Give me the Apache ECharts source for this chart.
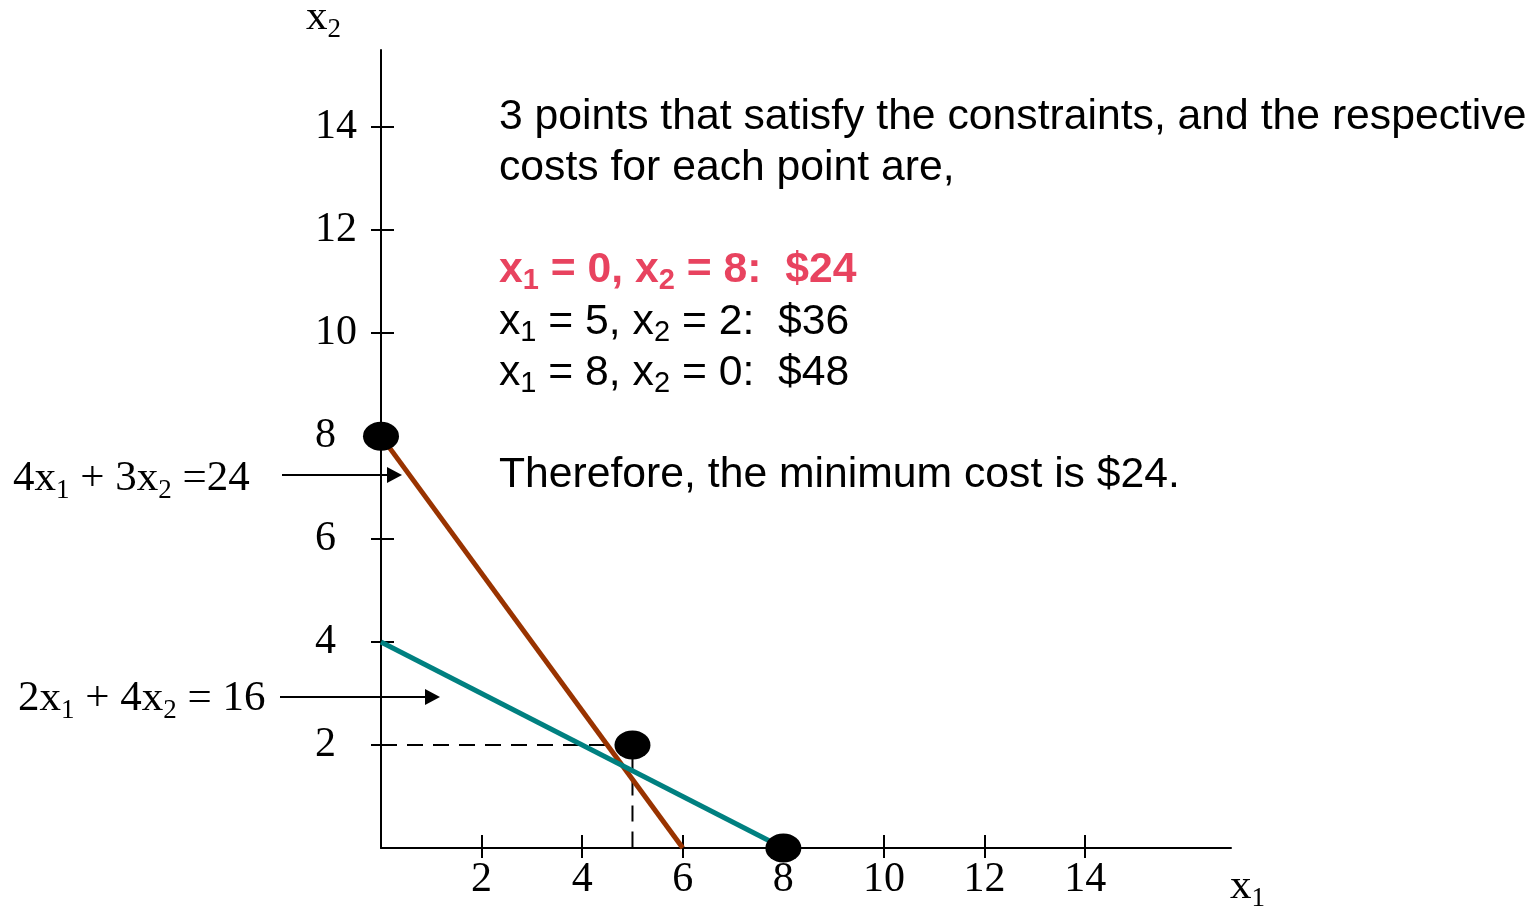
<!DOCTYPE html>
<html>
<head>
<meta charset="utf-8">
<title>Minimum cost: corner points of the feasible region</title>
<script src="https://cdn.jsdelivr.net/npm/echarts@6/dist/echarts.min.js"></script>
<style>
  html, body { margin: 0; padding: 0; background: #ffffff; }
  #chart { width: 1536px; height: 908px; }
</style>
</head>
<body>
<div id="chart"></div>
<script>
// Constraint lines, each given by its two axis intercepts (x1, x2)
const constraint1 = [[0, 8], [6, 0]];   // 4x1 + 3x2 = 24
const constraint2 = [[0, 4], [8, 0]];   // 2x1 + 4x2 = 16

// Corner points of the feasible region
const cornerPoints = [[0, 8], [5, 2], [8, 0]];

// Guide to the middle corner point
const guidePath = [[0, 2], [5, 2], [5, 0]];

// Tick values shown on both axes
const xTicks = [2, 4, 6, 8, 10, 12, 14];
const yTicks = [2, 4, 6, 8, 10, 12, 14];

const SERIF = '"Liberation Serif", "DejaVu Serif", serif';
const SANS = '"Liberation Sans", Arial, sans-serif';

const GRID = { left: 381, top: 50, width: 850, height: 798 };
const X_MAX = 16.9;
const Y_MAX = 15.5;

const chart = echarts.init(document.getElementById('chart'), null, { renderer: 'canvas' });

function xAxisDef(gridIndex, outer) {
  return {
    type: 'value', gridIndex, min: 0, max: X_MAX,
    axisLine: { show: outer, onZero: false, lineStyle: { color: '#000', width: 2 } },
    splitLine: { show: false },
    axisTick: { show: true, inside: !outer, length: outer ? 10 : 13, customValues: xTicks,
                lineStyle: { color: '#000', width: 2 } },
    axisLabel: { show: outer, customValues: xTicks, margin: 11, color: '#000',
                 fontFamily: SERIF, fontSize: 42 }
  };
}
function yAxisDef(gridIndex, outer) {
  return {
    type: 'value', gridIndex, min: 0, max: Y_MAX,
    axisLine: { show: outer, onZero: false, lineStyle: { color: '#000', width: 2 } },
    splitLine: { show: false },
    axisTick: { show: true, inside: !outer, length: outer ? 10 : 13, customValues: yTicks,
                lineStyle: { color: '#000', width: 2 } },
    axisLabel: { show: outer, customValues: yTicks, margin: 66, align: 'left', color: '#000',
                 fontFamily: SERIF, fontSize: 42 }
  };
}

// Rich-text styles for subscripted variable names
const sansRich = (fill, weight) => ({
  m: { fontFamily: SANS, fontSize: 42.7, lineHeight: 50, fill, fontWeight: weight },
  s: { fontFamily: SANS, fontSize: 29, lineHeight: 21, fill, fontWeight: weight,
       verticalAlign: 'bottom' }
});
const serifRich = {
  m: { fontFamily: SERIF, fontSize: 43, lineHeight: 50, fill: '#000' },
  s: { fontFamily: SERIF, fontSize: 27, lineHeight: 21, fill: '#000', verticalAlign: 'bottom' }
};

// Text block placed by its first baseline
function textEl(x, baseline, text, rich) {
  return { type: 'text', x, y: baseline - 39, z: 10,
           style: { text, rich, verticalAlign: 'top', align: 'left' } };
}
function arrowEl(x0, x1, y) {
  return [
    { type: 'line', z: 10, shape: { x1: x0, y1: y, x2: x1 - 12, y2: y },
      style: { stroke: '#000', lineWidth: 2 } },
    { type: 'polygon', z: 10, shape: { points: [[x1, y], [x1 - 15, y - 8], [x1 - 15, y + 8]] },
      style: { fill: '#000' } }
  ];
}

const option = {
  backgroundColor: '#ffffff',
  animation: false,
  grid: [
    Object.assign({ containLabel: false }, GRID),
    Object.assign({ containLabel: false }, GRID)
  ],
  xAxis: [xAxisDef(0, true), xAxisDef(1, false)],
  yAxis: [yAxisDef(0, true), yAxisDef(1, false)],
  series: [
    {
      name: '4x1 + 3x2 = 24', type: 'line', data: constraint1, symbol: 'none', clip: false,
      lineStyle: { color: '#993300', width: 5 }, z: 3
    },
    {
      name: '2x1 + 4x2 = 16', type: 'line', data: constraint2, symbol: 'none', clip: false,
      lineStyle: { color: '#008080', width: 5 }, z: 3
    },
    {
      name: 'guide', type: 'line', data: guidePath, symbol: 'none', clip: false,
      lineStyle: { color: '#000', width: 2, type: [16, 10] }, z: 2
    },
    {
      name: 'corner points', type: 'scatter', data: cornerPoints, clip: false,
      symbol: 'circle', symbolSize: [36, 29], itemStyle: { color: '#000', opacity: 1 }, z: 6
    }
  ],
  graphic: [
    // axis names
    textEl(306, 32, '{m|x}{s|2}', serifRich),
    textEl(1230, 901, '{m|x}{s|1}', serifRich),
    // constraint labels with arrows
    textEl(13, 493, '{m|4x}{s|1}{m| + 3x}{s|2}{m| =24}', serifRich),
    textEl(18, 713, '{m|2x}{s|1}{m| + 4x}{s|2}{m| = 16}', serifRich),
    ...arrowEl(282, 402, 475),
    ...arrowEl(280, 440, 697),
    // explanation text
    textEl(499, 131, '{m|3 points that satisfy the constraints, and the respective}', sansRich('#000', 'normal')),
    textEl(499, 182, '{m|costs for each point are,}', sansRich('#000', 'normal')),
    textEl(499, 284, '{m|x}{s|1}{m| = 0, x}{s|2}{m| = 8:  $24}', sansRich('#e8435f', 'bold')),
    textEl(499, 336, '{m|x}{s|1}{m| = 5, x}{s|2}{m| = 2:  $36}', sansRich('#000', 'normal')),
    textEl(499, 387, '{m|x}{s|1}{m| = 8, x}{s|2}{m| = 0:  $48}', sansRich('#000', 'normal')),
    textEl(499, 489, '{m|Therefore, the minimum cost is $24.}', sansRich('#000', 'normal'))
  ]
};

chart.setOption(option);
</script>
</body>
</html>
